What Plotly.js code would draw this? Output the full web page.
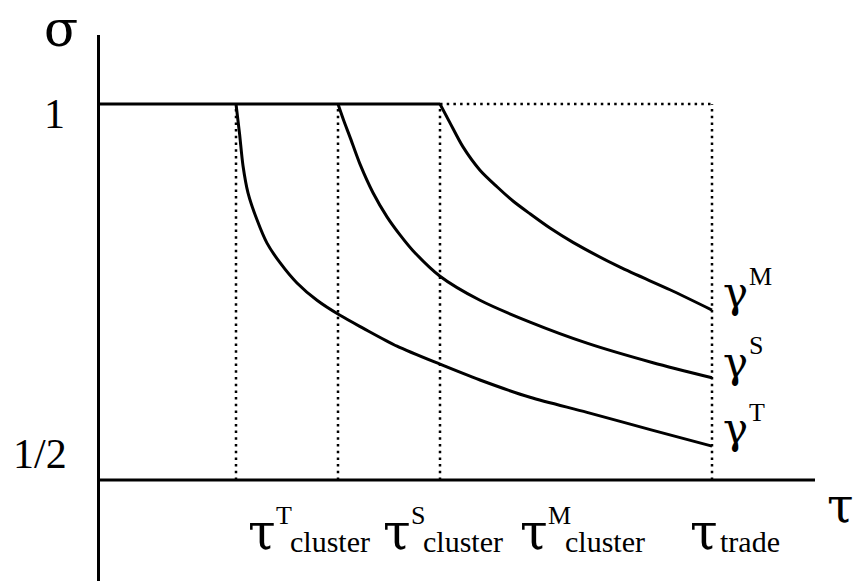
<!DOCTYPE html>
<html>
<head>
<meta charset="utf-8">
<script src="https://cdn.plot.ly/plotly-3.0.1.min.js"></script>
<style>html,body{margin:0;padding:0;background:#fff;}#chart{width:854px;height:581px;}</style>
</head>
<body>
<div id="chart"></div>
<script>
// ---- data (τ in arbitrary units, σ between 1/2 and 1) ----
var tauT = 1.36, tauS = 2.38, tauM = 3.40, tauTrade = 6.12;
var sigmaHigh = 1.0, sigmaLow = 0.5;

var gammaT_x = [1.36,1.395,1.43,1.48,1.57,1.67,1.80,1.97,2.17,2.40,2.63,2.97,3.40,3.80,4.30,4.87,5.53,6.12];
var gammaT_y = [1.0,0.961,0.918,0.882,0.846,0.815,0.789,0.762,0.739,0.719,0.702,0.678,0.654,0.633,0.610,0.590,0.566,0.545];

var gammaS_x = [2.38,2.44,2.50,2.60,2.73,2.87,3.00,3.13,3.40,3.80,4.30,4.87,5.53,6.12];
var gammaS_y = [1.0,0.977,0.956,0.920,0.882,0.850,0.826,0.805,0.771,0.739,0.710,0.682,0.656,0.636];

var gammaM_x = [3.40,3.50,3.63,3.80,3.97,4.13,4.30,4.50,4.73,5.20,5.70,6.12];
var gammaM_y = [1.0,0.975,0.943,0.912,0.890,0.871,0.854,0.835,0.816,0.783,0.753,0.726];

var curveLabels = ['M','S','T'];
var tickSup = ['T','S','M'];

// ---- layout geometry ----
var W = 854, H = 581, L = 100, R = 39, T = 35, B = 0;
var pw = W - L - R, ph = H - T - B;
function px2x(px){ return (px - L) / pw; }
function py2y(py){ return (H - B - py) / ph; }
var SERIF = 'Liberation Serif, Times New Roman, serif';
var GREEK = "'DejaVu Serif', serif";
function ann(text, px, py, size, xa, fam){
  return {text: text, x: px2x(px), y: py2y(py), xref: 'paper', yref: 'paper',
          xanchor: xa || 'left', yanchor: 'middle', showarrow: false,
          font: {family: fam || SERIF, size: size, color: '#000'}};
}

var solid = {color: '#000', width: 3};
var dotted = {color: '#000', width: 2.5, dash: '2.5px,4.2px'};
var curve = {color: '#000', width: 3, shape: 'spline', smoothing: 0.8};

var traces = [
  {x: [0, tauM], y: [sigmaHigh, sigmaHigh], mode: 'lines', line: solid},
  {x: [0, 7.15], y: [sigmaLow, sigmaLow], mode: 'lines', line: solid},
  {x: [tauT, tauT, null, tauS, tauS, null, tauM, tauM, null, tauTrade, tauTrade, null, tauM, tauTrade],
   y: [sigmaLow, sigmaHigh, null, sigmaLow, sigmaHigh, null, sigmaLow, sigmaHigh, null, sigmaLow, sigmaHigh, null, sigmaHigh, sigmaHigh],
   mode: 'lines', line: dotted},
  {x: gammaT_x, y: gammaT_y, mode: 'lines', line: curve},
  {x: gammaS_x, y: gammaS_y, mode: 'lines', line: curve},
  {x: gammaM_x, y: gammaM_y, mode: 'lines', line: curve}
];

var annotations = [
  ann('σ', 61, 29, 50, 'center', GREEK),
  ann('1', 55, 114, 42, 'center'),
  ann('1/2', 40, 454, 42, 'center'),
  ann('τ', 840, 505, 48, 'center', GREEK),
  // x labels
  ann('τ', 246, 532, 50, 'left', GREEK), ann(tickSup[0], 274, 515, 26), ann('cluster', 288, 541, 30),
  ann('τ', 381, 532, 50, 'left', GREEK), ann(tickSup[1], 409, 515, 26), ann('cluster', 421, 541, 30),
  ann('τ', 518, 532, 50, 'left', GREEK), ann(tickSup[2], 546, 515, 26), ann('cluster', 563, 541, 30),
  ann('τ', 688, 532, 50, 'left', GREEK), ann('trade', 718, 541, 30),
  // curve labels
  ann('γ', 721, 292, 42, 'left', GREEK), ann(curveLabels[0], 747, 276, 26),
  ann('γ', 721, 362, 42, 'left', GREEK), ann(curveLabels[1], 747, 345, 26),
  ann('γ', 721, 428, 42, 'left', GREEK), ann(curveLabels[2], 747, 412, 26)
];

var layout = {
  width: W, height: H,
  margin: {l: L, r: R, t: T, b: B, pad: 0},
  paper_bgcolor: '#fff', plot_bgcolor: '#fff',
  showlegend: false,
  xaxis: {range: [0, 7.15], showgrid: false, zeroline: false, showticklabels: false, ticks: '', showline: false, fixedrange: true},
  yaxis: {range: [0.3657, 1.0918], showgrid: false, zeroline: false, showticklabels: false, ticks: '',
          showline: true, linecolor: '#000', linewidth: 3, fixedrange: true},
  annotations: annotations
};

Plotly.newPlot('chart', traces, layout, {displayModeBar: false, staticPlot: true});
</script>
</body>
</html>
